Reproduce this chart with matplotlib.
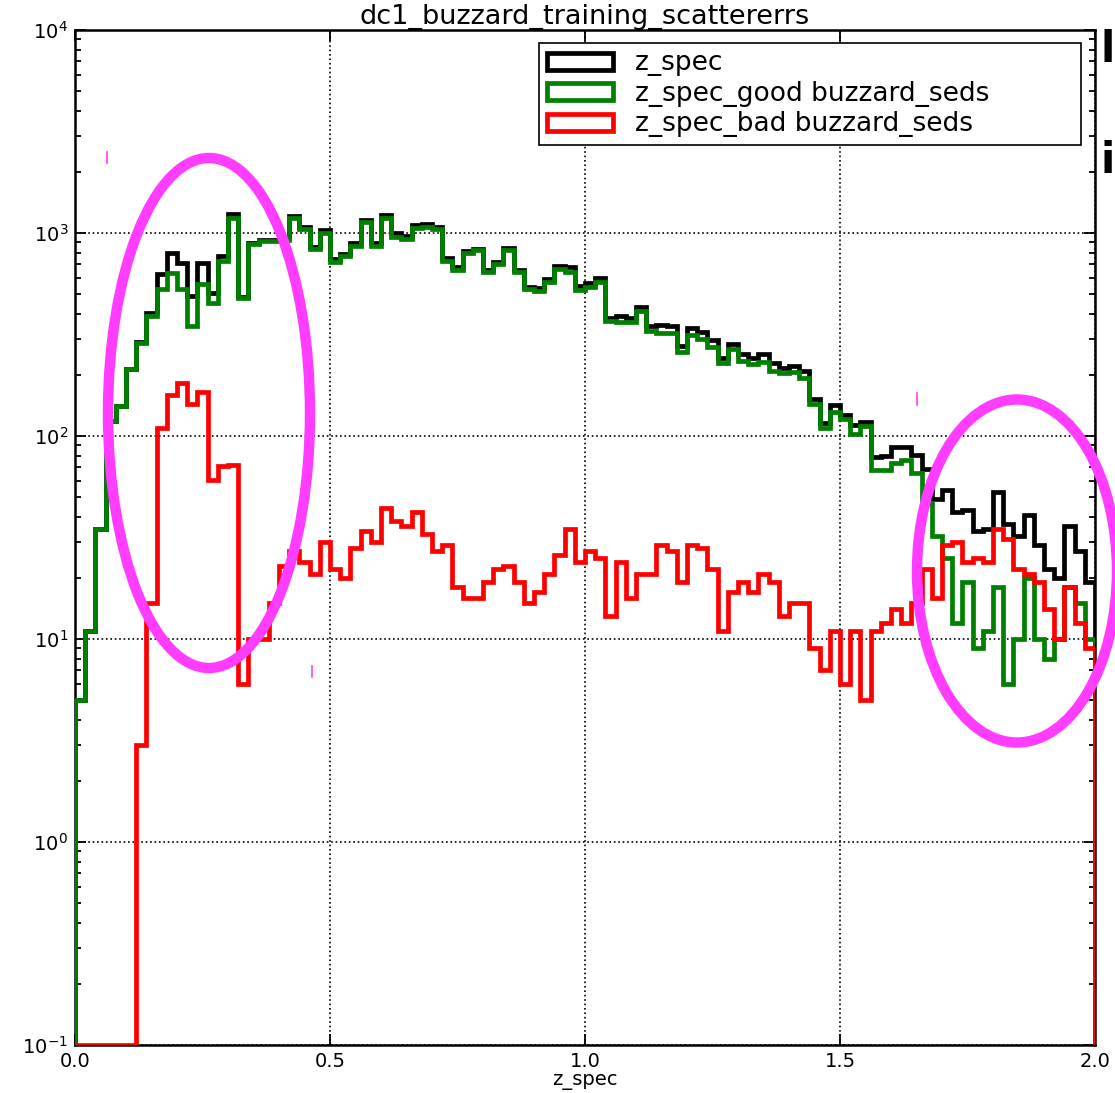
import numpy as np
import matplotlib
matplotlib.use("Agg")
import matplotlib.pyplot as plt
from matplotlib.patches import Ellipse, Patch
from matplotlib.lines import Line2D

# ---------------- data (counts per bin of width 0.02 over 0 <= z < 2) ----------------
bin_lo, bin_hi, n_bins = 0.0, 2.0, 100

z_spec_counts = [
    5, 11, 35, 118, 140, 213, 291, 405, 630, 800,
    714, 490, 710, 505, 771, 1235, 486, 890, 923, 928,
    943, 1217, 1066, 852, 1030, 742, 790, 893, 1164, 895,
    1224, 998, 971, 1097, 1103, 1072, 755, 678, 816, 836,
    659, 722, 843, 659, 545, 537, 596, 691, 680, 549,
    567, 600, 381, 388, 380, 433, 350, 352, 347, 277,
    342, 327, 297, 241, 284, 253, 243, 253, 228, 217,
    221, 209, 153, 116, 142, 127, 113, 117, 79, 80,
    88, 88, 81, 69, 49, 54, 42, 43, 34, 35,
    53, 37, 32, 41, 29, 22, 20, 36, 27, 19,
]

good_counts = [
    5, 11, 35, 118, 140, 213, 288, 390, 528, 638,
    528, 348, 558, 454, 728, 1190, 480, 880, 913, 913,
    920, 1190, 1042, 831, 1000, 720, 770, 865, 1130, 865,
    1180, 960, 935, 1055, 1070, 1045, 725, 660, 800, 820,
    640, 700, 820, 640, 530, 520, 575, 665, 645, 525,
    540, 575, 368, 364, 364, 412, 329, 323, 320, 258,
    313, 299, 275, 230, 267, 234, 226, 232, 209, 204,
    206, 194, 144, 109, 131, 121, 102, 112, 68, 68,
    74, 76, 66, 47, 32, 25, 12, 19, 9, 11,
    18, 6, 10, 20, 10, 8, 10, 18, 15, 10,
]

bad_counts = [
    0, 0, 0, 0, 0, 0, 3, 15, 109, 160,
    183, 143, 165, 61, 71, 72, 6, 10, 10, 15,
    23, 27, 24, 21, 30, 22, 20, 28, 34, 30,
    44, 38, 36, 42, 33, 27, 29, 18, 16, 16,
    19, 22, 23, 19, 15, 17, 21, 26, 35, 24,
    27, 25, 13, 24, 16, 21, 21, 29, 27, 19,
    29, 28, 22, 11, 17, 19, 17, 21, 19, 13,
    15, 15, 9, 7, 11, 6, 11, 5, 11, 12,
    14, 12, 15, 22, 16, 29, 30, 24, 25, 24,
    35, 31, 22, 21, 19, 14, 10, 18, 12, 9,
]

series_labels = ["z_spec", "z_spec_good buzzard_seds", "z_spec_bad buzzard_seds"]
series_colors = ["black", "#008000", "#ff0000"]
title_text = "dc1_buzzard_training_scattererrs"
x_label = "z_spec"
x_ticks = [0.0, 0.5, 1.0, 1.5, 2.0]
y_limits = (0.1, 1e4)

# ---------------- figure ----------------
W, H = 1115, 1093
fig = plt.figure(figsize=(W / 100, H / 100), dpi=100)
fig.patch.set_facecolor("white")

def fx(px):
    return px / W

def fy(py):
    return 1 - py / H

ax = fig.add_axes([fx(75), fy(1045), fx(1095) - fx(75), fy(30) - fy(1045)])
ax.set_yscale("log")

edges = np.linspace(bin_lo, bin_hi, n_bins + 1)
ymin = y_limits[0]
lw = 3.4
for vals, color in zip([z_spec_counts, good_counts, bad_counts], series_colors):
    v = np.asarray(vals, dtype=float)
    ax.stairs(np.where(v > 0, v, ymin), edges, baseline=ymin,
              color=color, linewidth=lw, zorder=3)

ax.set_xlim(bin_lo, bin_hi)
ax.set_ylim(*y_limits)
ax.set_xticks(x_ticks)
ax.set_xticklabels([f"{t:.1f}" for t in x_ticks])

ax.grid(True, which="major", color="black", linestyle=":", linewidth=1.2)
ax.set_axisbelow(True)
ax.tick_params(which="both", direction="in", top=True, right=True, width=1.3)
ax.tick_params(which="major", length=8, labelsize=14, pad=5)
ax.tick_params(which="minor", length=4)
for sp in ax.spines.values():
    sp.set_linewidth(1.8)

ax.set_title(title_text, fontsize=19.5, pad=4)
ax.set_xlabel(x_label, fontsize=14, labelpad=0)

handles = [Patch(facecolor="white", edgecolor=c, linewidth=lw) for c in series_colors]
leg = ax.legend(handles, series_labels, loc="upper left",
                bbox_to_anchor=((539 - 75) / 1020, (1045 - 144) / 1015,
                                (1081 - 539) / 1020, 0.1),
                mode="expand", borderaxespad=0, fontsize=19,
                handlelength=2.5, handleheight=0.62, handletextpad=0.85,
                labelspacing=0.17, borderpad=0.3, fancybox=False,
                framealpha=1, edgecolor="black")
leg.get_frame().set_linewidth(1.2)

# ---------------- magenta annotation ellipses ----------------
mag = "#ff3cff"
fig.add_artist(Ellipse((fx(209), fy(413)), 202 / W, 510 / H,
                       transform=fig.transFigure, fill=False,
                       edgecolor=mag, linewidth=7.5, zorder=10))
fig.add_artist(Ellipse((fx(1017), fy(571)), 200 / W, 343 / H,
                       transform=fig.transFigure, fill=False,
                       edgecolor=mag, linewidth=7.5, zorder=10))
for (px, py0, py1) in [(107, 152, 163), (312, 666, 677), (917, 393, 405)]:
    fig.add_artist(Line2D([fx(px), fx(px)], [fy(py0), fy(py1)],
                          transform=fig.transFigure, color=mag, linewidth=1.2))

# ---------------- slide text fragments at the right edge ----------------
fig.text(fx(1115), fy(62), "l", fontsize=30, fontweight="bold",
         color="black", ha="right", va="baseline")
fig.text(fx(1115), fy(173), "i", fontsize=30, fontweight="bold",
         color="black", ha="right", va="baseline")

fig.savefig("out.png", dpi=100, facecolor="white")
